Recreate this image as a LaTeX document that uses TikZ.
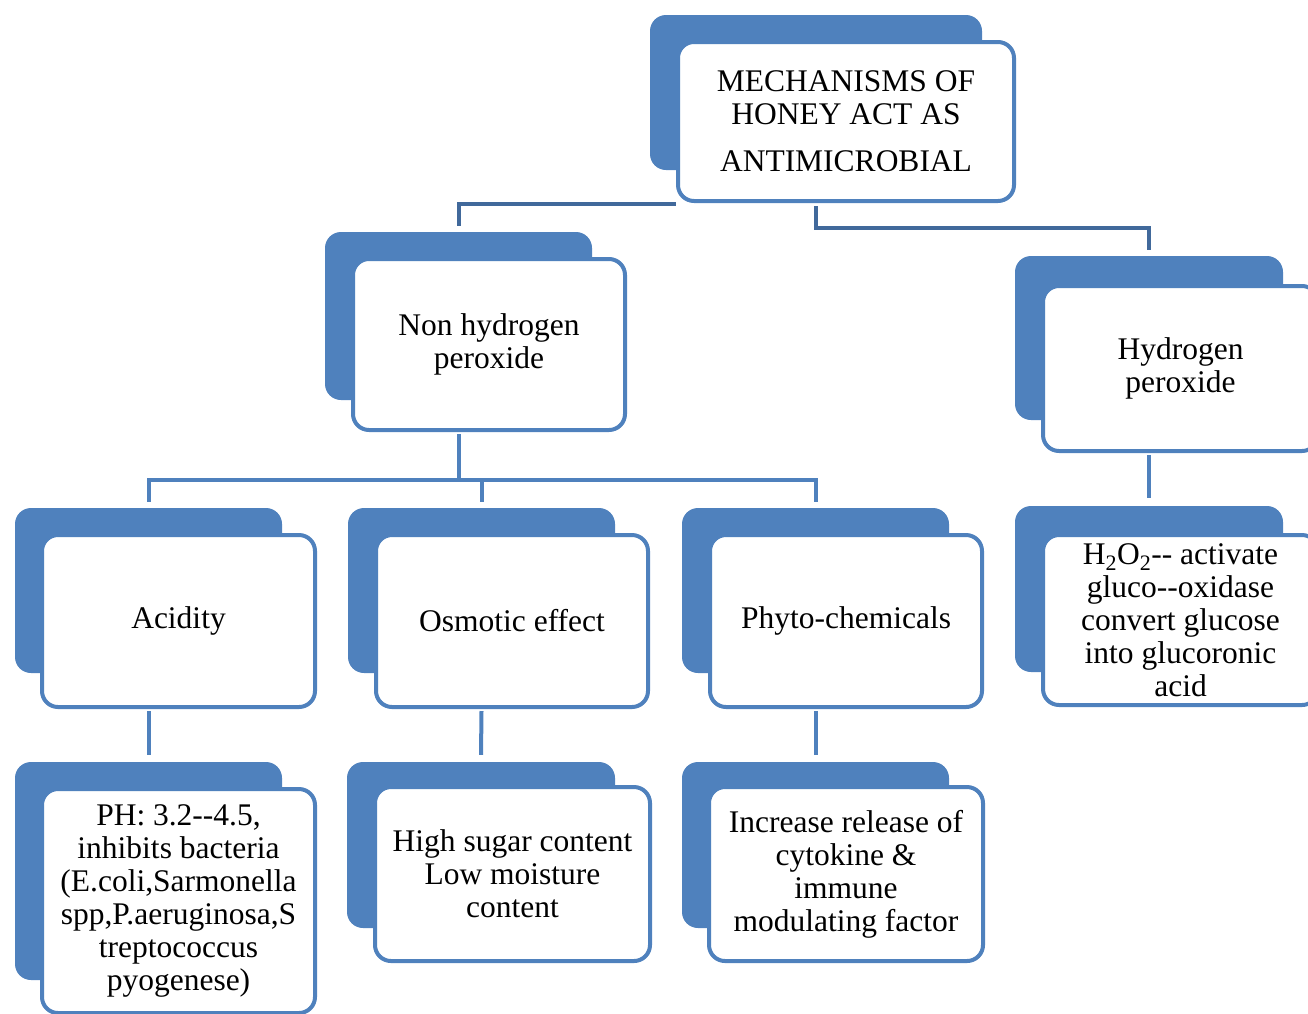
\documentclass[tikz,border=0pt]{standalone}
\usepackage{fontspec}
\setmainfont{Liberation Serif}
\definecolor{acc}{HTML}{4F81BD}
\definecolor{accd}{HTML}{41699B}
\begin{document}
\begin{tikzpicture}[x=1pt,y=-1pt,
  backbox/.style={fill=acc,draw=none,rounded corners=16pt,inner sep=0pt},
  frontbox/.style={draw=acc,line width=4pt,fill=white,rounded corners=16pt,align=center,inner sep=0pt,font=\fontsize{31.5}{33}\selectfont},
  conn/.style={draw=acc,line width=4pt},
  rootconn/.style={draw=accd,line width=4pt}]
\useasboundingbox (0,0) rectangle (1308,1013);
\coordinate (j1) at (0,204);
\coordinate (j2) at (0,228);
\coordinate (j3) at (0,480);
% root
\node[backbox,minimum width=332pt,minimum height=155pt] (rootb) at (816,92.5) {};
\node[frontbox,minimum width=336pt,minimum height=159pt] (root) at (846,121.5) {MECHANISMS OF\\HONEY ACT AS\\[14pt]ANTIMICROBIAL};
% level 1
\node[backbox,minimum width=267pt,minimum height=168pt] (nhb) at (458.5,316) {};
\node[frontbox,minimum width=272pt,minimum height=171pt] (nh) at (489,344.5) {Non hydrogen\\peroxide};
\node[backbox,minimum width=268pt,minimum height=164pt] (hyb) at (1149,338) {};
\node[frontbox,minimum width=275pt,minimum height=165pt] (hy) at (1180.5,368.5) {Hydrogen\\peroxide};
% level 2
\node[backbox,minimum width=267pt,minimum height=165pt] (acb) at (148.5,590.5) {};
\node[frontbox,minimum width=273pt,minimum height=172pt] (ac) at (178.5,621) {Acidity};
\node[backbox,minimum width=267pt,minimum height=165pt] (osb) at (481.5,590.5) {};
\node[frontbox,minimum width=272pt,minimum height=172pt] (os) at (512,621) {Osmotic effect};
\node[backbox,minimum width=267pt,minimum height=165pt] (phb) at (815.5,590.5) {};
\node[frontbox,minimum width=272pt,minimum height=172pt] (ph) at (846,621) {Phyto-chemicals};
\node[backbox,minimum width=268pt,minimum height=166pt] (h2b) at (1149,589) {};
\node[frontbox,minimum width=275pt,minimum height=170pt] (h2) at (1180.5,620) {H\textsubscript{2}O\textsubscript{2}-{}- activate\\gluco-{}-oxidase\\convert glucose\\into glucoronic\\acid};
% level 3
\node[backbox,minimum width=267pt,minimum height=218pt] (pHb) at (148.5,871) {};
\node[frontbox,minimum width=273pt,minimum height=224pt] (pH) at (178.5,901) {PH: 3.2-{}-4.5,\\inhibits bacteria\\(E.coli,Sarmonella\\spp,P.aeruginosa,S\\treptococcus\\pyogenese)};
\node[backbox,minimum width=268pt,minimum height=166pt] (sgb) at (481,845) {};
\node[frontbox,minimum width=275pt,minimum height=174pt] (sg) at (512.5,874) {High sugar content\\Low moisture\\content};
\node[backbox,minimum width=267pt,minimum height=166pt] (ckb) at (815.5,845) {};
\node[frontbox,minimum width=274pt,minimum height=174pt] (ck) at (846,874) {Increase release of\\cytokine \&\\immune\\modulating factor};
% connectors from root
\draw[rootconn] ([yshift=6pt]nhb.north) -- (nhb.north |- j1) -- (root.west |- j1);
\draw[rootconn] ([yshift=-3pt]rootb.south |- root.south) -- (rootb.south |- j2) -- (hyb.north |- j2) -- ([yshift=6pt]hyb.north);
% non hydrogen branch
\draw[conn] ([yshift=-2pt]nhb.south |- nh.south) -- (nhb.south |- j3);
\draw[conn] ([yshift=6pt]acb.north) -- (acb.north |- j3) -- (phb.north |- j3) -- ([yshift=6pt]phb.north);
\draw[conn] (osb.north |- j3) -- ([yshift=6pt]osb.north);
% level 2 to level 3
\draw[conn] ([yshift=-2pt]acb.south |- ac.south) -- ([yshift=7pt]pHb.north);
\draw[conn] ([yshift=-2pt]osb.south |- os.south) -- ([yshift=7pt]sgb.north);
\draw[conn] ([yshift=-2pt]phb.south |- ph.south) -- ([yshift=7pt]ckb.north);
% hydrogen branch
\draw[conn] ([yshift=-2pt]hyb.south |- hy.south) -- ([yshift=8pt]h2b.north);
\end{tikzpicture}
\end{document}
